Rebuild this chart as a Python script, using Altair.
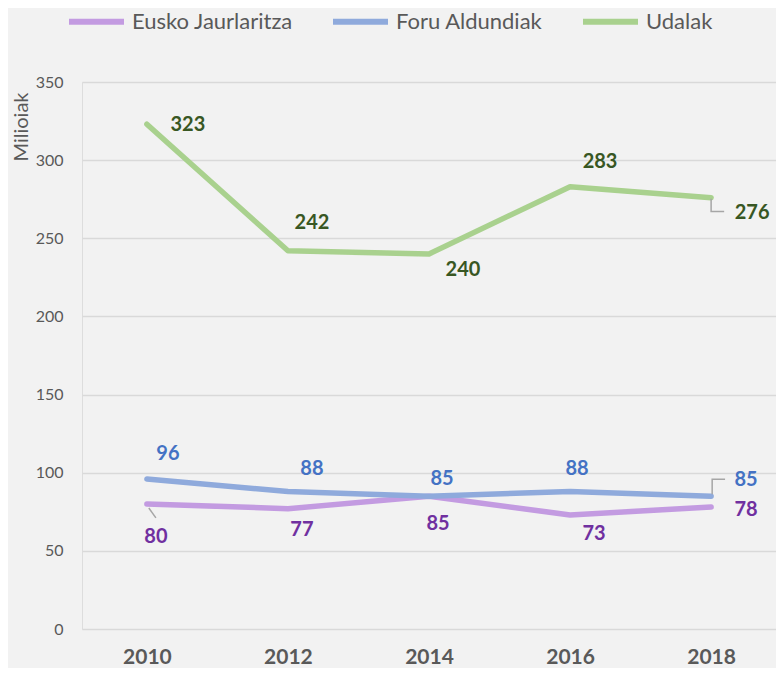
import altair as alt
import pandas as pd

# ---- data ----
years = [2010, 2012, 2014, 2016, 2018]
series_names = ["Eusko Jaurlaritza", "Foru Aldundiak", "Udalak"]
eusko = [80, 77, 85, 73, 78]
foru = [96, 88, 85, 88, 85]
udalak = [323, 242, 240, 283, 276]

# label offsets (pixels, relative to each point)
eusko_dx = [9, 14, 9, 24, 35]
eusko_dy = [33, 21, 28, 19, 3]
foru_dx = [21, 24, 13, 7, 35]
foru_dy = [-25, -22, -17, -22, -16]
udalak_dx = [41, 24, 34, 30, 41]
udalak_dy = [1, -28, 16, -25, 15]

# leader lines (custom symbol paths)
leader_series = ["Udalak", "Foru Aldundiak", "Eusko Jaurlaritza"]
leader_year = [2018, 2018, 2010]
leader_path = [
    "M0,0.07 L0,0.93 L0.87,0.93",
    "M0.07,-0.13 L0.07,-1.13 L0.93,-1.13",
    "M0.13,0.27 L0.6,0.93",
]

line_colors = ["#c39be1", "#8faadc", "#a9d18e"]
label_colors = ["#7030a0", "#4472c4", "#385723"]

rows = []
for name, vals, dxs, dys in [
    ("Eusko Jaurlaritza", eusko, eusko_dx, eusko_dy),
    ("Foru Aldundiak", foru, foru_dx, foru_dy),
    ("Udalak", udalak, udalak_dx, udalak_dy),
]:
    for y, v, dx, dy in zip(years, vals, dxs, dys):
        rows.append({"year": y, "series": name, "value": v, "dx": dx, "dy": dy})
df = pd.DataFrame(rows)

lvals = {(r["series"], r["year"]): r["value"] for r in rows}
leaders = pd.DataFrame({
    "series": leader_series,
    "year": leader_year,
    "value": [lvals[(s, y)] for s, y in zip(leader_series, leader_year)],
    "path": leader_path,
})

x_enc = alt.X(
    "year:O",
    scale=alt.Scale(type="point", padding=0.46),
    axis=alt.Axis(
        title=None, labelAngle=0, labelFont="Lato", labelFontSize=21,
        labelFontWeight="bold", labelColor="#595959", labelPadding=17,
        grid=False, domain=False, ticks=False,
    ),
)
y_enc = alt.Y(
    "value:Q",
    scale=alt.Scale(domain=[0, 350], nice=False),
    axis=alt.Axis(
        title="Milioiak", titleFont="Lato", titleFontSize=20,
        titleFontWeight="normal", titleColor="#595959",
        titleAngle=-90, titleAlign="right", titleBaseline="alphabetic",
        titleX=-55, titleY=10,
        values=[0, 50, 100, 150, 200, 250, 300, 350],
        labelFont="Lato", labelFontSize=16, labelColor="#595959",
        labelPadding=19, grid=True, gridColor="#d9d9d9", gridWidth=1.5,
        domain=False, ticks=False,
    ),
)

lines = alt.Chart(df).mark_line(
    strokeWidth=5.5, strokeCap="round", strokeJoin="round"
).encode(
    x=x_enc,
    y=y_enc,
    color=alt.Color(
        "series:N",
        scale=alt.Scale(domain=series_names, range=line_colors),
        legend=alt.Legend(
            title=None, orient="none", direction="horizontal",
            legendX=-16, legendY=-91,
            symbolType="stroke", symbolSize=3025, symbolStrokeWidth=6,
            labelFont="Lato", labelFontSize=22, labelColor="#595959",
            labelOffset=5, columnPadding=28, padding=0, labelLimit=400,
        ),
    ),
)

leader_layer = alt.Chart(leaders).mark_point(
    filled=False, stroke="#a6a6a6", strokeWidth=1.5, opacity=1, size=900
).encode(
    x="year:O",
    y="value:Q",
    shape=alt.Shape("path:N", scale=None),
)

labels = alt.Chart(df).mark_text(
    font="Lato", fontSize=20, fontWeight="bold",
    dx=alt.ExprRef(expr="datum.dx"), dy=alt.ExprRef(expr="datum.dy"),
).encode(
    x="year:O",
    y="value:Q",
    text="value:Q",
    color=alt.Color(
        "series:N",
        scale=alt.Scale(domain=series_names, range=label_colors),
        legend=None,
    ),
)

chart = alt.layer(lines, leader_layer, labels).resolve_scale(
    color="independent"
).properties(
    width=694, height=547,
    autosize=alt.AutoSizeParams(type="none"),
    padding={"left": 74, "top": 74, "right": 0, "bottom": 39},
    background="#f2f2f2",
).configure_view(stroke=None).configure(font="Lato")

chart.save("out.html", embed_options={"renderer": "svg", "actions": False})
